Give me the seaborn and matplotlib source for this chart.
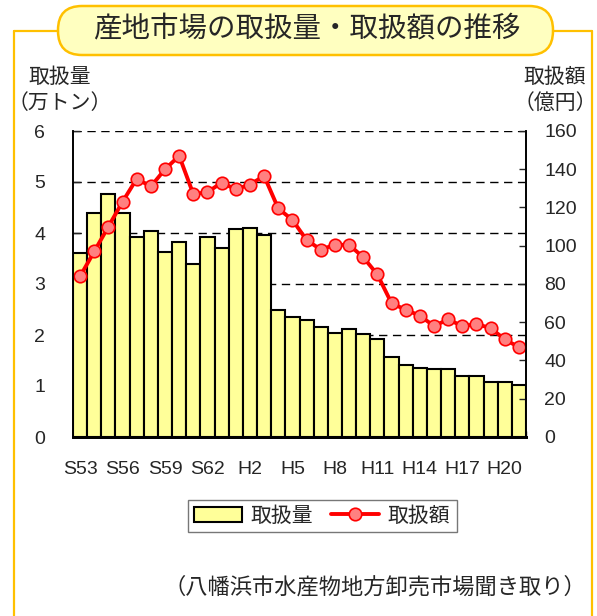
import numpy as np
import pandas as pd
import matplotlib
matplotlib.use('Agg')
import matplotlib.pyplot as plt
import matplotlib.patches as mpatches
from matplotlib.lines import Line2D
from matplotlib.transforms import IdentityTransform
import seaborn as sns

# data (S53 = 1978 ... H21 = 2009)
years = ['S53', 'S54', 'S55', 'S56', 'S57', 'S58', 'S59', 'S60', 'S61', 'S62', 'S63',
         'H1', 'H2', 'H3', 'H4', 'H5', 'H6', 'H7', 'H8', 'H9', 'H10', 'H11', 'H12',
         'H13', 'H14', 'H15', 'H16', 'H17', 'H18', 'H19', 'H20', 'H21']
volume = [3.60, 4.40, 4.76, 4.40, 3.93, 4.03, 3.63, 3.83, 3.40, 3.93, 3.70, 4.07,
          4.10, 3.97, 2.50, 2.36, 2.29, 2.16, 2.03, 2.12, 2.02, 1.93, 1.56, 1.42,
          1.36, 1.33, 1.33, 1.20, 1.20, 1.08, 1.08, 1.02]   # 万トン
value = [84, 97, 110, 123, 135, 131, 140, 147, 127, 128, 133, 129.5, 132, 136.5,
         119.5, 113.5, 103, 98, 100.5, 100.5, 94, 85, 70, 66.5, 63.5, 58, 61.5,
         58, 59, 57, 51, 47]   # 億円
tick_years = ['S53', 'S56', 'S59', 'S62', 'H2', 'H5', 'H8', 'H11', 'H14', 'H17', 'H20']

df = pd.DataFrame({'year': years, 'volume': volume, 'value': value, 'pos': np.arange(len(years))})

sns.set_style('white')
plt.rcParams['font.family'] = ['Liberation Sans', 'Noto Sans CJK JP', 'DejaVu Sans']

fig = plt.figure(figsize=(5.97, 6.16), dpi=100)
ax = fig.add_axes([73/597, 1-437/616, 453/597, 306/616])

sns.barplot(data=df, x='year', y='volume', ax=ax, color='#FFFF99', saturation=1,
            width=1.0, edgecolor='black', linewidth=1.5, label='取扱量', zorder=2)
ax.set_ylim(0, 6)
ax.set_xlim(-0.5, len(years) - 0.5)
ax.set_yticks(range(0, 7))
ax.yaxis.grid(True, color='black', linestyle=(0, (6, 4)), linewidth=1)
ax.set_axisbelow(True)

pos_map = {y: i for i, y in enumerate(years)}
ax.set_xticks([pos_map[t] for t in tick_years])
ax.set_xticklabels(tick_years)
ax.set_xticks(np.arange(-0.5, len(years)), minor=True)
ax.tick_params(axis='x', which='major', length=0, pad=17, labelsize=14)
ax.tick_params(axis='x', which='minor', direction='in', length=4, width=1, bottom=True)
ax.tick_params(axis='y', direction='in', length=5, width=1, left=True, pad=20, labelsize=14)
ax.set_xlabel('')
ax.set_ylabel('')

ax2 = ax.twinx()
sns.lineplot(data=df, x='pos', y='value', ax=ax2, color='#FF0000', linewidth=2.8,
             marker='o', markersize=9, markerfacecolor='#FF8080',
             markeredgecolor='#FF0000', markeredgewidth=1.2, label='取扱額')
ax2.set_ylim(0, 160)
ax2.set_yticks(range(0, 161, 20))
ax2.tick_params(axis='y', direction='in', length=5, width=1, right=True, pad=13, labelsize=14)
ax2.set_xlabel('')
ax2.set_ylabel('')
ax2.set_xlim(-0.5, len(years) - 0.5)

for a in (ax, ax2):
    a.spines['top'].set_visible(False)
    for s in ('left', 'right'):
        a.spines[s].set_color('black')
        a.spines[s].set_linewidth(1.2)
    a.spines['bottom'].set_color('black')
    a.spines['bottom'].set_linewidth(2)

h1, l1 = ax.get_legend_handles_labels()
h2, l2 = ax2.get_legend_handles_labels()
if ax.get_legend():
    ax.get_legend().remove()
if ax2.get_legend():
    ax2.get_legend().remove()
leg = fig.legend(h1 + h2, l1 + l2, ncol=2, loc='center', bbox_to_anchor=(322/597, 1-516/616),
                 fontsize=15, frameon=True, fancybox=False, edgecolor='#555555',
                 handlelength=2.3, handleheight=0.7, columnspacing=0.9, handletextpad=0.4,
                 borderpad=0.3, borderaxespad=0)
leg.get_frame().set_linewidth(1)

# axis titles
fig.text(60/597, 1-90/616, '取扱量\n（万トン）', ha='center', va='center', fontsize=15, linespacing=1.4)
fig.text(555/597, 1-90/616, '取扱額\n（億円）', ha='center', va='center', fontsize=15, linespacing=1.4)

# outer frame and title box
gold = '#FFC000'
frame_lines = [((14, 14), (0, 585)), ((14, 58), (585, 585)),
               ((553, 592), (585, 585)), ((592, 592), (585, 0))]
for xs, ys in frame_lines:
    fig.add_artist(Line2D(xs, ys, color=gold, linewidth=1.6, transform=IdentityTransform()))
box = mpatches.FancyBboxPatch((58, 561), 495, 49, boxstyle='round,pad=0,rounding_size=24',
                              facecolor='#FFFFC0', edgecolor=gold, linewidth=1.8,
                              transform=IdentityTransform())
fig.add_artist(box)
fig.text(307/597, 1-30/616, '産地市場の取扱量・取扱額の推移', ha='center', va='center', fontsize=20.5)

fig.text(586/597, 1-588/616, '（八幡浜市水産物地方卸売市場聞き取り）', ha='right', va='center', fontsize=16)

fig.savefig('out.png', dpi=100)
